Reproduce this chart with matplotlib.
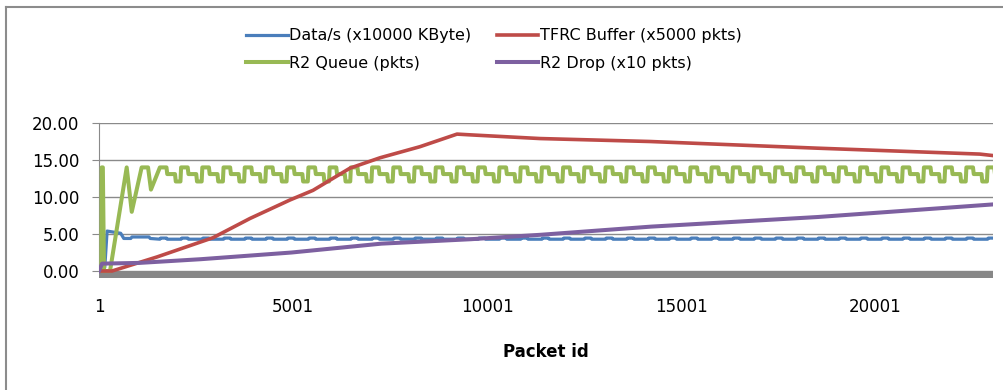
import matplotlib
matplotlib.use("Agg")
import matplotlib.pyplot as plt
from matplotlib.lines import Line2D

# ---- data (x = packet id) ----
x_ticks = [1, 5001, 10001, 15001, 20001]
x_last = 23042

# TFRC buffer (x5000 pkts)
tfrc_x = [1, 336, 1495, 2939, 3892, 4923, 5516, 6470, 7243, 8274, 9228,
          9562, 11366, 14202, 18506, 22700, 23040]
tfrc_y = [0, 0, 1.9, 4.5, 7.1, 9.6, 10.9, 13.9, 15.3, 16.8, 18.5,
          18.4, 17.9, 17.5, 16.6, 15.8, 15.6]

# R2 drop (x10 pkts)
drop_x = [1, 80, 1050, 2630, 4960, 7280, 9590, 11390, 14230, 18530, 23040]
drop_y = [0, 1.0, 1.1, 1.6, 2.5, 3.7, 4.3, 4.9, 6.0, 7.3, 9.0]

# start-up part of R2 queue and Data/s
queue_head_x = [1, 60, 70, 100, 130, 285, 715, 845, 1100, 1265, 1340]
queue_head_y = [0, 0, 14, 14, 0, 0, 14, 8.0, 14, 14, 11.0]
data_head_x = [1, 150, 210, 560, 640, 820, 850, 1290, 1320]
data_head_y = [0, 0.5, 5.4, 5.1, 4.4, 4.4, 4.6, 4.6, 4.4]

# packet id where each queue cycle starts (steady part)
cycle_start = [1570, 2117, 2664, 3211, 3758, 4305, 4852, 5399, 5946, 6493,
               7040, 7587, 8134, 8681, 9228, 9775, 10322, 10869, 11416, 11963,
               12510, 13057, 13604, 14151, 14698, 15245, 15792, 16339, 16886,
               17433, 17980, 18527, 19074, 19621, 20168, 20715, 21262, 21809,
               22356, 22903]
# shape of one cycle: offsets in packets and levels
queue_cycle_off = [0, 170, 190, 390, 410, 530]
queue_cycle_val = [14.0, 14.0, 13.1, 13.1, 12.1, 12.1]
data_cycle_off = [0, 20, 170, 190]
data_cycle_val = [4.3, 4.45, 4.45, 4.3]

labels = ["Data/s (x10000 KByte)", "TFRC Buffer (x5000 pkts)",
          "R2 Queue (pkts)", "R2 Drop (x10 pkts)"]
colors = ["#4a7ebb", "#be4b48", "#98b954", "#7d60a0"]


def build_cycles(head_x, head_y, offsets, values):
    """ head part followed by the repeated cycle at every cycle start """
    xs = list(head_x)
    ys = list(head_y)
    for s in cycle_start:
        for o, v in zip(offsets, values):
            xs.append(s + o)
            ys.append(v)
    return xs, ys


queue_x, queue_y = build_cycles(queue_head_x, queue_head_y,
                                queue_cycle_off, queue_cycle_val)
data_x, data_y = build_cycles(data_head_x, data_head_y,
                              data_cycle_off, data_cycle_val)

W, H = 1004, 390
fig = plt.figure(figsize=(W / 100, H / 100), dpi=100)
ax = fig.add_axes([99 / W, (H - 278.8) / H, (993 - 99) / W, (278.8 - 123) / H])

ax.axhspan(-1.0, 0, color="#878787", lw=0, zorder=1)

l_data, = ax.plot(data_x, data_y, color=colors[0], lw=2.3, zorder=3)
l_tfrc, = ax.plot(tfrc_x, tfrc_y, color=colors[1], lw=2.6, zorder=4)
l_queue, = ax.plot(queue_x, queue_y, color=colors[2], lw=2.9, zorder=3)
l_drop, = ax.plot(drop_x, drop_y, color=colors[3], lw=2.9, zorder=5)

ax.set_xlim(1, x_last)
ax.set_ylim(-1.05, 20)
ax.set_yticks([0, 5, 10, 15, 20])
ax.set_yticklabels([f"{v:.2f}" for v in [0, 5, 10, 15, 20]])
ax.set_xticks(x_ticks)
ax.set_xticklabels([str(v) for v in x_ticks])
ax.grid(axis="y", color="#8a8a8a", lw=1)
ax.set_axisbelow(True)

for side in ["top", "right", "bottom"]:
    ax.spines[side].set_visible(False)
ax.spines["left"].set_color("#8a8a8a")
ax.spines["left"].set_bounds(0, 20)

ax.tick_params(axis="y", length=5, color="#8a8a8a", pad=9, labelsize=12)
ax.tick_params(axis="x", length=0, pad=14, labelsize=12)
ax.set_xlabel("Packet id", fontsize=12, fontweight="bold", labelpad=19)

fig.legend([l_data, l_queue, l_tfrc, l_drop],
           [labels[0], labels[2], labels[1], labels[3]],
           ncol=2, loc="center", bbox_to_anchor=(0.492, 0.873),
           frameon=False, fontsize=11.5, handlelength=2.6, handletextpad=0.1,
           columnspacing=1.6, labelspacing=0.78)

# outer chart frame (top and left edges)
fig.add_artist(Line2D([6 / W, 1], [1 - 7 / H, 1 - 7 / H],
                      transform=fig.transFigure, color="#8c8c8c", lw=1.5))
fig.add_artist(Line2D([6 / W, 6 / W], [0, 1 - 7 / H],
                      transform=fig.transFigure, color="#8c8c8c", lw=1.5))

fig.savefig("out.png", dpi=100)
